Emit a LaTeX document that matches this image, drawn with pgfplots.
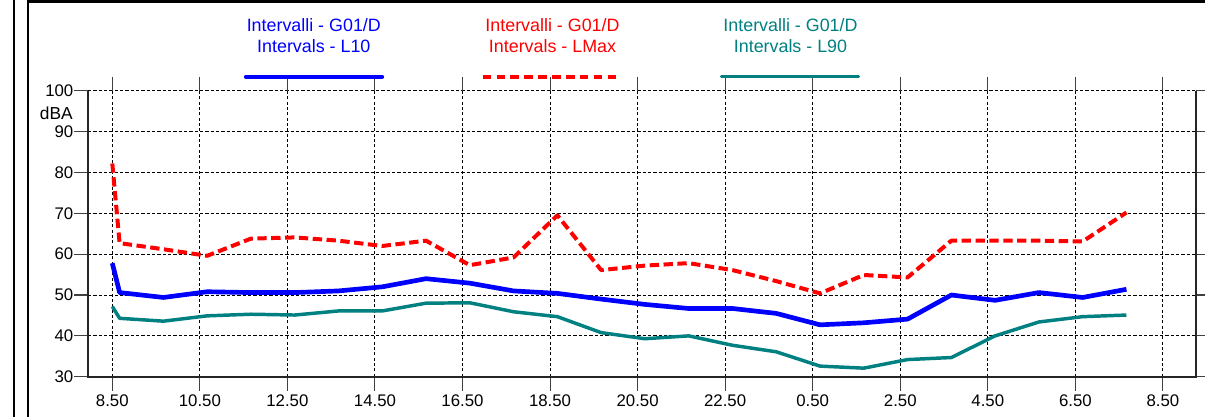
\documentclass[border=0pt]{standalone}
\usepackage{fontspec}
\setmainfont{Liberation Sans}
\usepackage{pgfplots}
\pgfplotsset{compat=1.18}

\definecolor{lten}{RGB}{0,0,255}
\definecolor{lmax}{RGB}{255,0,0}
\definecolor{lninety}{RGB}{0,128,128}

\newcommand\tickfont{\fontsize{12.6}{14}\selectfont}
\newcommand\legfont{\fontsize{13.4}{15.8}\selectfont}

% hours after 8.50 ; first point 8.50, then every full hour 9.00 ... 8.00
\pgfplotstableread{
x     lten  lmax  lninety
0.000 57.8  82.2  47.2
0.167 50.6  62.7  44.3
1.167 49.4  61.2  43.6
2.167 50.8  59.6  44.9
3.167 50.6  63.8  45.3
4.167 50.6  64.1  45.1
5.167 51.0  63.3  46.1
6.167 52.0  62.0  46.1
7.167 54.0  63.3  48.0
8.167 52.9  57.3  48.1
9.167 51.0  59.2  45.9
10.167 50.4 69.5  44.7
11.167 49.0 56.1  40.8
12.167 47.7 57.2  39.3
13.167 46.7 57.8  40.0
14.167 46.7 56.1  37.7
15.167 45.5 53.4  36.1
16.167 42.7 50.4  32.6
17.167 43.2 54.9  32.1
18.167 44.1 54.3  34.2
19.167 50.0 63.3  34.7
20.167 48.7 63.3  40.0
21.167 50.6 63.3  43.4
22.167 49.4 63.1  44.7
23.167 51.4 70.2  45.1
}\intervals

\begin{document}
\begin{tikzpicture}
\path[use as bounding box] (0,0) rectangle (903.75pt,312.75pt);

\begin{axis}[
    at={(66pt,30.2pt)}, anchor=south west,
    scale only axis,
    width=830.8pt, height=214.5pt,
    xmin=-0.555, xmax=24.75,
    ymin=30, ymax=100,
    xtick={0,2,...,24},
    xticklabels={8.50,10.50,12.50,14.50,16.50,18.50,20.50,22.50,0.50,2.50,4.50,6.50,8.50},
    ytick={30,40,...,100},
    tick align=outside,
    major tick length=10.5pt,
    tick style={black!75, line width=0.8pt},
    /pgf/number format/assume math mode=true,
    xticklabel style={font=\tickfont, yshift=0.8pt},
    yticklabel style={font=\tickfont, xshift=3pt},
    grid=major,
    major grid style={black, line width=0.7pt, dash pattern=on 2.4pt off 1.6pt},
    axis line style={draw=none},
    clip=false,
]
\addplot[lmax, line width=3pt, dash pattern=on 7pt off 3.4pt, line join=round] table[x=x, y=lmax] {\intervals};
\addplot[lten, line width=3.5pt, line join=round] table[x=x, y=lten] {\intervals};
\addplot[lninety, line width=2.6pt, line join=round] table[x=x, y=lninety] {\intervals};

\draw[black!85, line width=1.4pt] (rel axis cs:0,1) -- (rel axis cs:0,0) -- (rel axis cs:1,0) -- (rel axis cs:1,1);
\end{axis}

\begin{scope}[x=0.75pt, y=0.75pt]
% frame
\draw[black, line width=1.6pt] (14,0) -- (14,417);
\draw[black, line width=2pt] (28,0) -- (28,415.8) -- (1205,415.8);
% y unit
\node[anchor=east, inner sep=0pt, font=\fontsize{13}{15}\selectfont] at (73,304) {dBA};
% legend
\node[lten, align=center, font=\legfont] at (313.8,381) {Intervalli - G01/D\\Intervals - L10};
\node[lmax, align=center, font=\legfont] at (552.5,381) {Intervalli - G01/D\\Intervals - LMax};
\node[lninety, align=center, font=\legfont] at (790.5,381) {Intervalli - G01/D\\Intervals - L90};
\draw[lten, line width=3.2pt, line cap=round] (246,340.3) -- (382,340.3);
\draw[lmax, line width=3.2pt, dash pattern=on 6.5pt off 3.9pt] (482.7,340.3) -- (621,340.3);
\draw[lninety, line width=2.6pt, line cap=round] (721.5,340.3) -- (858.5,340.3);
\end{scope}
\end{tikzpicture}
\end{document}
